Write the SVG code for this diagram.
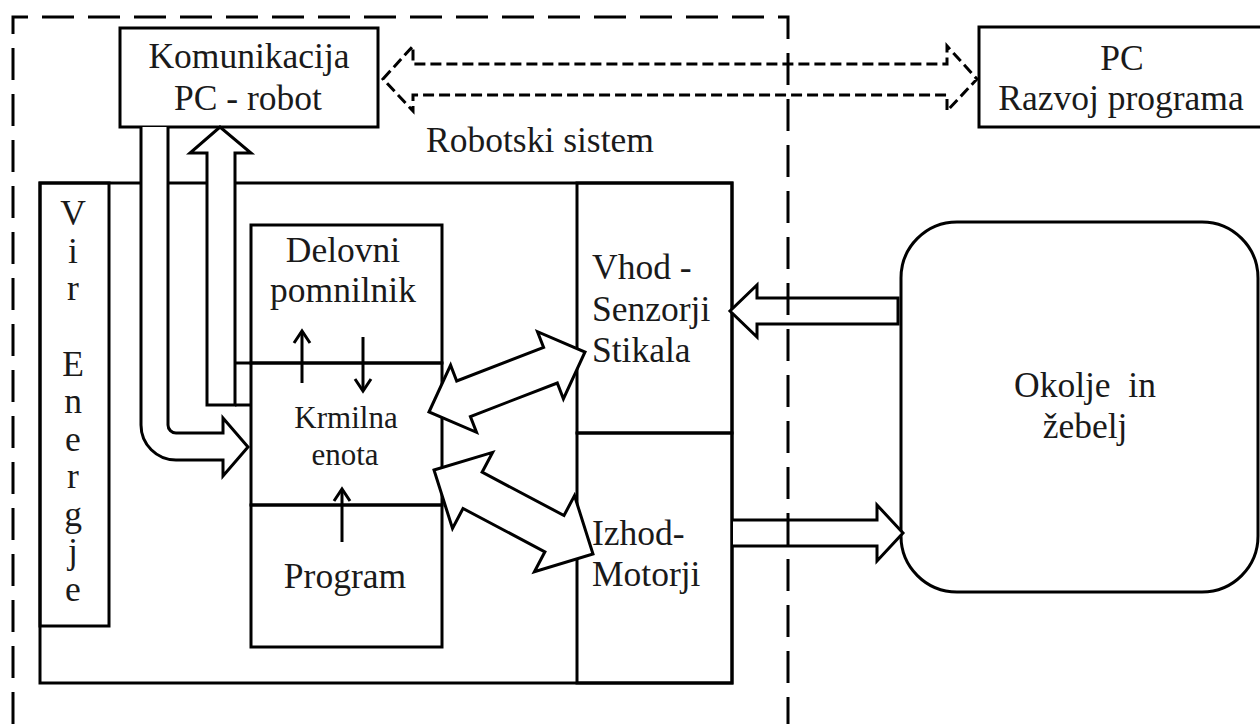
<svg xmlns="http://www.w3.org/2000/svg" width="1260" height="724" viewBox="0 0 1260 724">
  <style>
    .box { fill: none; stroke: #000; stroke-width: 3; }
    .ln { fill: none; stroke: #000; stroke-width: 3; }
    .blk { fill: #fff; stroke: #000; stroke-width: 3; stroke-linejoin: miter; }
    .dash { fill: none; stroke: #000; stroke-width: 3; stroke-dasharray: 32 14; }
    .dasharrow { fill: #fff; stroke: #000; stroke-width: 3; stroke-dasharray: 11 5; }
    .t { font-family: "Liberation Serif", "Times New Roman", serif; font-size: 35.5px; fill: #1a1a1a; }
    .c { text-anchor: middle; }
    .sm { font-size: 31px; }
  </style>
  <rect width="1260" height="724" fill="#fff"/>

  <!-- main robot body -->
  <g id="robot-body">
    <rect class="box" x="40" y="183" width="692" height="500"/>
  </g>

  <g id="vir-energije">
    <rect class="box" x="40" y="183" width="69" height="443"/>
    <g class="t c">
      <text x="73" y="225">V</text>
      <text x="73" y="263">i</text>
      <text x="73" y="300">r</text>
      <text x="73" y="376">E</text>
      <text x="73" y="413">n</text>
      <text x="73" y="451">e</text>
      <text x="73" y="488">r</text>
      <text x="73" y="526">g</text>
      <text x="73" y="563">j</text>
      <text x="73" y="601">e</text>
    </g>
  </g>

  <g id="delovni-pomnilnik">
    <rect class="box" x="251" y="225" width="191" height="138"/>
    <text class="t c" x="343" y="262">Delovni</text>
    <text class="t c" x="343" y="302">pomnilnik</text>
  </g>

  <g id="krmilna-enota">
    <rect class="box" x="251" y="363" width="191" height="142"/>
    <line class="ln" x1="235" y1="363" x2="251" y2="363"/>
    <line class="ln" x1="235" y1="405" x2="251" y2="405"/>
    <text class="t c sm" x="346" y="428">Krmilna</text>
    <text class="t c sm" x="345" y="465">enota</text>
  </g>

  <g id="program">
    <rect class="box" x="251" y="505" width="191" height="142"/>
    <text class="t c" x="345" y="588">Program</text>
  </g>

  <g id="vhod">
    <rect class="box" x="577" y="183" width="155" height="250"/>
    <text class="t" x="592" y="279">Vhod -</text>
    <text class="t" x="592" y="321">Senzorji</text>
    <text class="t" x="592" y="362">Stikala</text>
  </g>

  <g id="izhod">
    <rect class="box" x="577" y="433" width="155" height="250"/>
    <text class="t" x="592" y="545">Izhod-</text>
    <text class="t" x="592" y="586">Motorji</text>
  </g>

  <g id="komunikacija">
    <rect class="box" x="120" y="28" width="258" height="99"/>
    <text class="t c" x="249" y="68">Komunikacija</text>
    <text class="t c" x="248" y="110">PC - robot</text>
  </g>

  <g id="pc">
    <rect class="box" x="979" y="27" width="300" height="100"/>
    <text class="t c" x="1122" y="70">PC</text>
    <text class="t c" x="1121" y="110">Razvoj programa</text>
  </g>

  <g id="okolje">
    <rect class="box" x="901" y="222" width="357" height="370" rx="56" ry="56"/>
    <text class="t c" x="1085" y="397" xml:space="preserve">Okolje  in</text>
    <text class="t c" x="1085" y="438">žebelj</text>
  </g>

  <g id="robotski-sistem-label">
    <text class="t c" x="540" y="152">Robotski sistem</text>
  </g>

  <!-- connectors -->
  <g id="connectors">
    <!-- PC <-> communication link -->
    <path class="dasharrow" d="M383,79 L413,46 V64 H947 V46 L977,79 L947,111 V95 H413 V111 Z"/>

    <!-- communication -> control unit (bent block arrow) -->
    <path class="blk" d="M141,127 V425 A35,35 0 0 0 176,460 H223 V476 L248,447 L223,418 V433 H176 A8,8 0 0 1 168,425 V127"/>

    <!-- control unit -> communication -->
    <path class="blk" d="M207,405 V153 H190 L220,127 L251,153 H235 V405 Z"/>

    <!-- control unit <-> inputs -->
    <polygon class="blk" points="429,412 450.6,365.1 456.7,381 543.6,347.5 537.5,331.7 585,352 563.4,398.9 557.3,383 470.4,416.5 476.5,432.3"/>

    <!-- control unit <-> outputs -->
    <polygon class="blk" points="434,470 492.6,452.4 482.1,472.2 564,515.5 574.5,495.6 593,554 534.4,571.7 544.9,551.8 463,508.5 452.5,528.4"/>

    <!-- environment -> inputs -->
    <path class="blk" d="M898,298 H757 V285 L730,311 L757,337 V324 H898 Z"/>

    <!-- outputs -> environment -->
    <path class="blk" d="M733,520 H877 V505 L903,533 L877,561 V546 H733"/>

    <!-- memory / control / program small arrows -->
    <g class="ln" stroke-linejoin="miter">
      <line x1="302" y1="383" x2="302" y2="333"/>
      <polyline points="294,343 302,331 310,343"/>
      <line x1="363" y1="337" x2="363" y2="389"/>
      <polyline points="355,379 363,391 371,379"/>
      <line x1="342" y1="542" x2="342" y2="491"/>
      <polyline points="334,501 342,489 350,501"/>
    </g>
  </g>

  <!-- system boundary -->
  <g id="system-boundary">
    <path class="dash" d="M13,724 V17 H788 V724"/>
  </g>
</svg>
